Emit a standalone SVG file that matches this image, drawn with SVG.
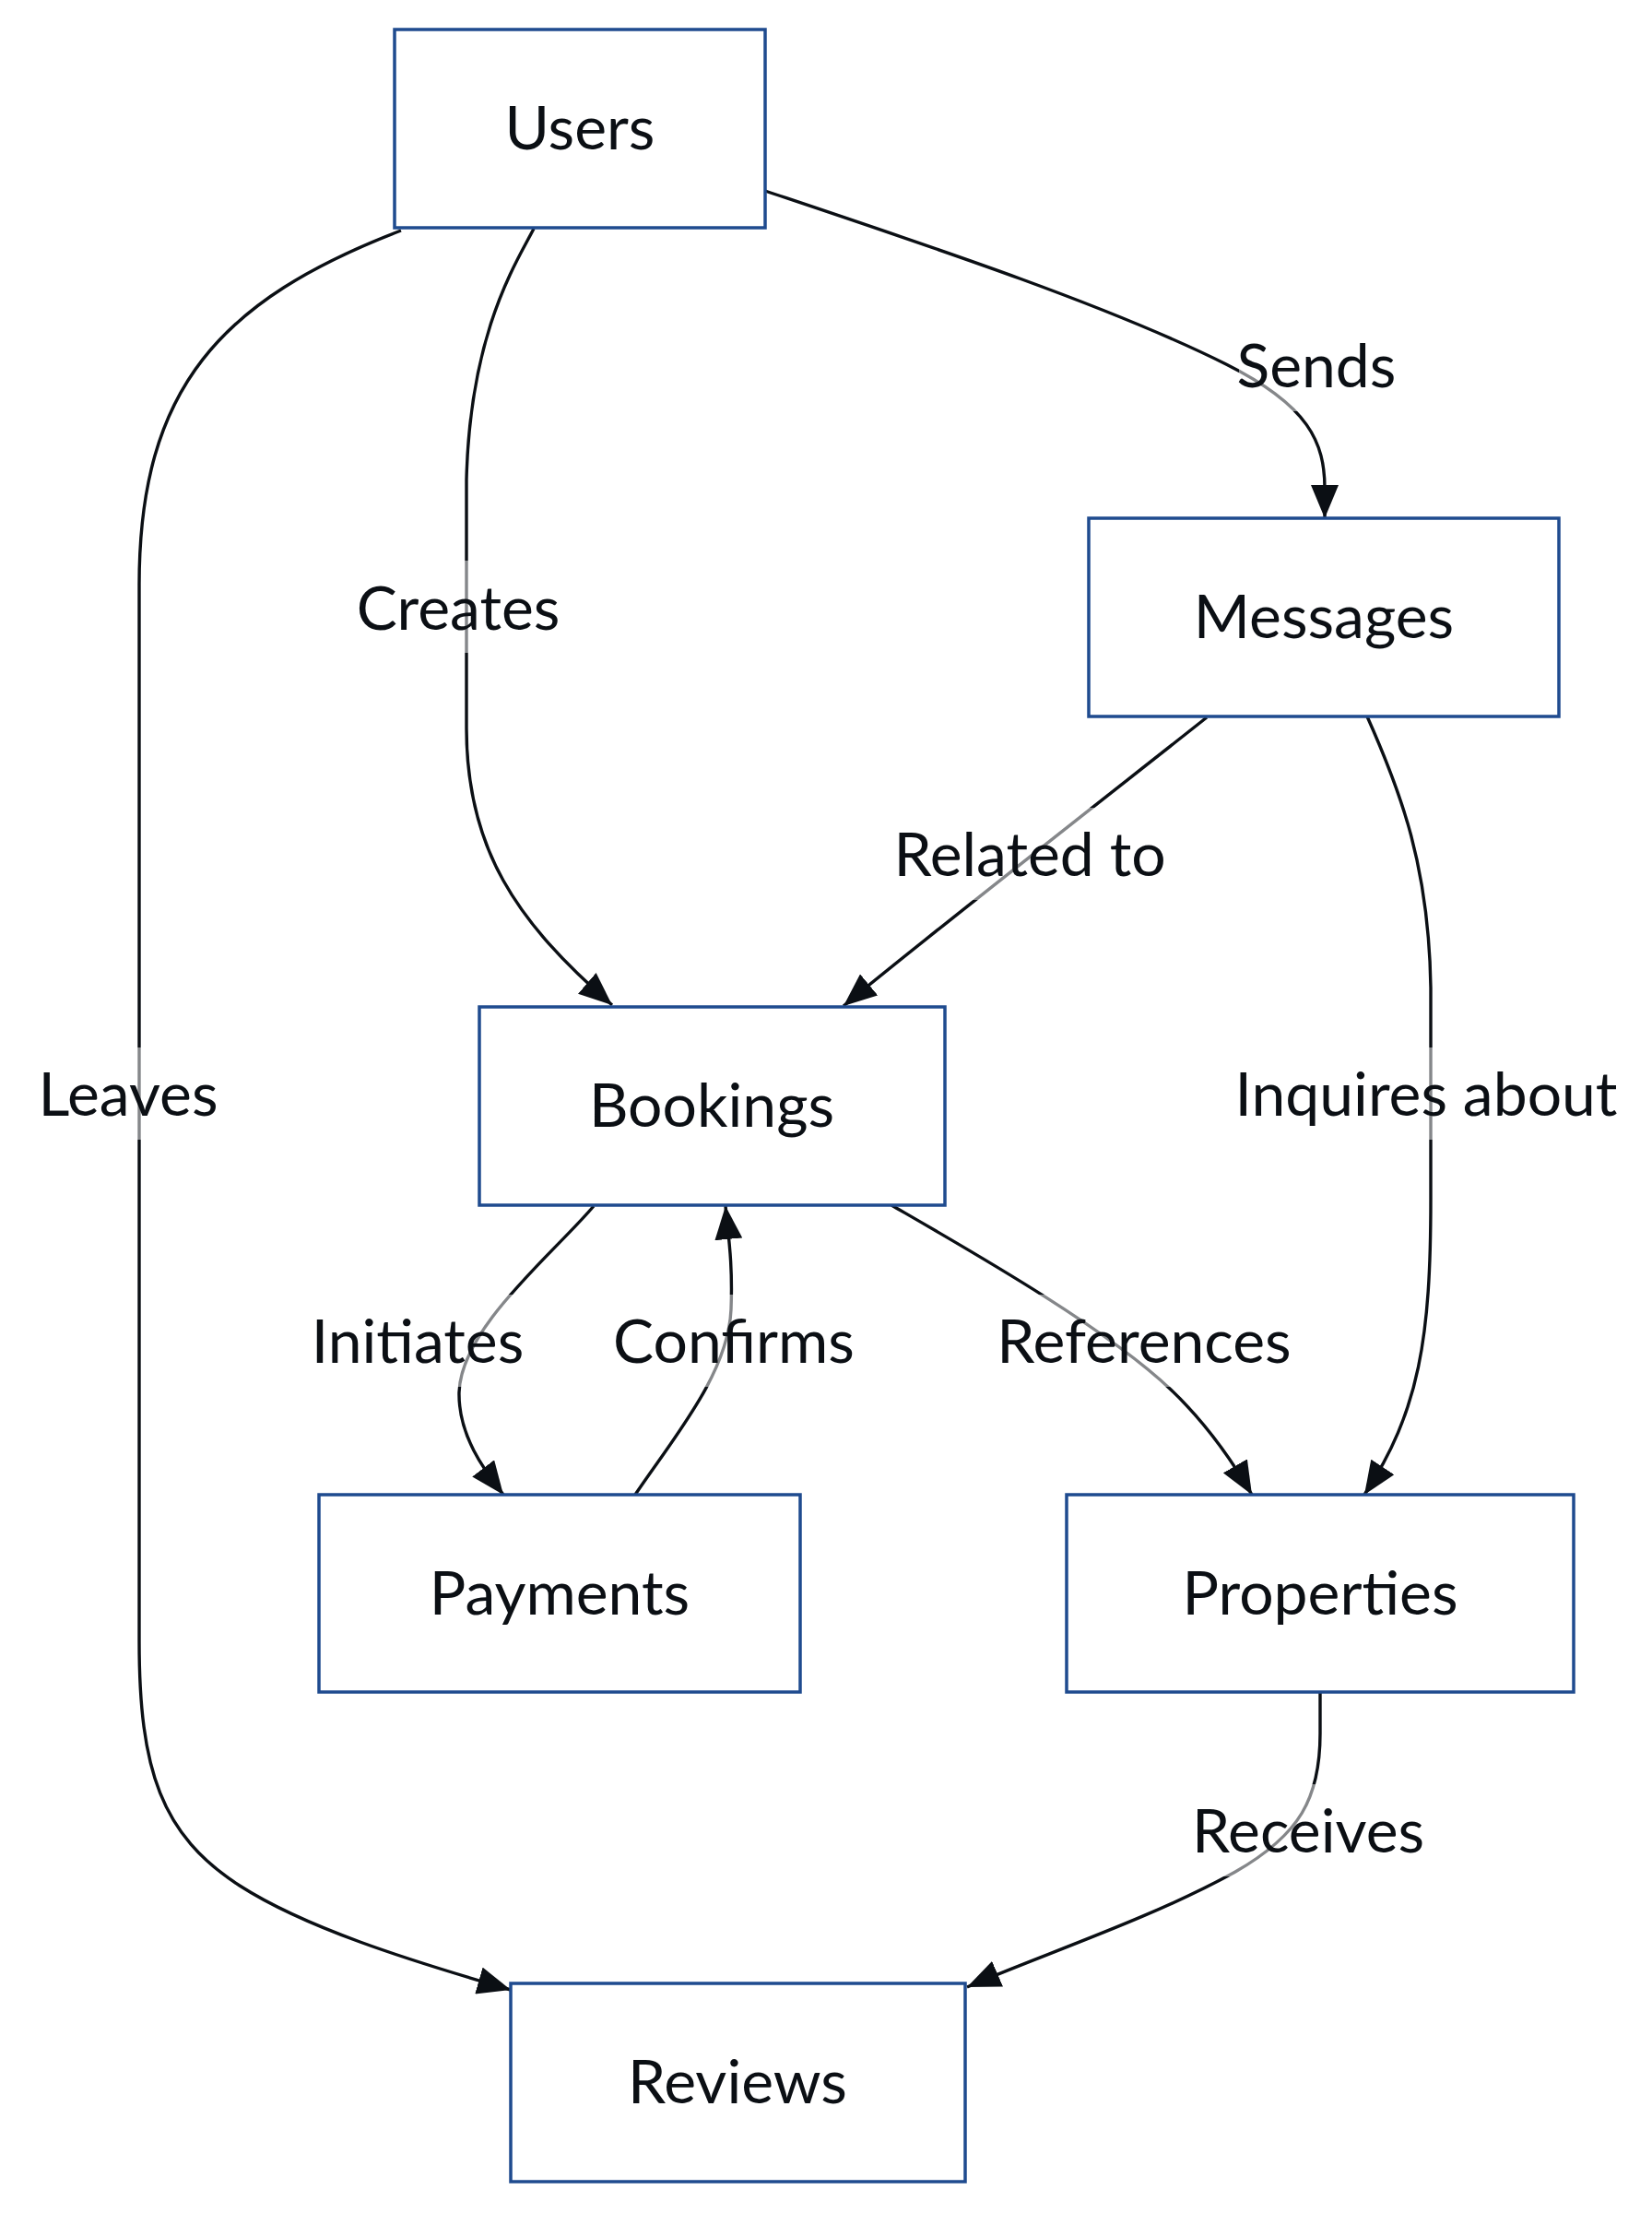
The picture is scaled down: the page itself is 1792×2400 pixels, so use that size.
<svg xmlns="http://www.w3.org/2000/svg" width="1792" height="2400" viewBox="0 0 1792 2400">
<style>
.node rect{fill:#ffffff;stroke:#1f4b8f;stroke-width:3.5}
.node text{font-family:Lato,"Open Sans","Liberation Sans",sans-serif;font-size:66px;fill:#0b0f14;text-anchor:middle}
.edge{fill:none;stroke:#0b0f14;stroke-width:3.4}
.lbl rect{fill:#ffffff;fill-opacity:0.5}
.lbl text{font-family:Lato,"Open Sans","Liberation Sans",sans-serif;font-size:66px;fill:#0b0f14;text-anchor:middle}
</style>
<defs>
<marker id="arrow" viewBox="0 0 12 10" refX="12" refY="5" markerUnits="userSpaceOnUse" markerWidth="36" markerHeight="30" orient="auto">
<path d="M0,0 L12,5 L0,10 z" fill="#0b0f14"/>
</marker>
</defs>
<g id="connectors">
<path class="edge" marker-end="url(#arrow)" d="M830,207 C1000,264 1200,330 1330,395 C1420,440 1437,480 1437,530 L1437,562"/>
<path class="edge" marker-end="url(#arrow)" d="M579,248 C560,285 510,360 506,520 L506,790 C506,920 560,1000 664,1090"/>
<path class="edge" marker-end="url(#arrow)" d="M435,250 C240,325 151,420 151,634 L151,1780 C151,1920 175,1990 260,2045 C330,2090 440,2125 554,2158"/>
<path class="edge" marker-end="url(#arrow)" d="M1309,778 C1250,825 1000,1020 915,1091"/>
<path class="edge" marker-end="url(#arrow)" d="M1483,777 C1520,860 1550,940 1552,1071 L1552,1300 C1552,1450 1540,1530 1480,1621"/>
<path class="edge" marker-end="url(#arrow)" d="M644,1308 C600,1360 500,1440 498,1510 C497,1560 530,1600 546,1621"/>
<path class="edge" marker-end="url(#arrow)" d="M689,1621 C730,1560 790,1490 793,1420 C795,1370 790,1340 787,1308"/>
<path class="edge" marker-end="url(#arrow)" d="M967,1307 C1050,1355 1200,1440 1270,1507 C1310,1545 1340,1590 1358,1621"/>
<path class="edge" marker-end="url(#arrow)" d="M1432,1835 L1432,1880 C1432,1950 1410,1990 1340,2030 C1250,2080 1130,2120 1049,2155"/>
<g class="lbl"><rect x="1344" y="346" width="168" height="100"/><text x="1428" y="420">Sends</text></g>
<g class="lbl"><rect x="386" y="608" width="222" height="100"/><text x="497" y="683">Creates</text></g>
<g class="lbl"><rect x="966" y="876" width="303" height="100"/><text x="1117" y="950">Related to</text></g>
<g class="lbl"><rect x="42" y="1136" width="194" height="100"/><text x="139" y="1210">Leaves</text></g>
<g class="lbl"><rect x="1338" y="1136" width="418" height="100"/><text x="1547" y="1210">Inquires about</text></g>
<g class="lbl"><rect x="334" y="1404" width="237" height="100"/><text x="453" y="1478">Initiates</text></g>
<g class="lbl"><rect x="668" y="1404" width="257" height="100"/><text x="796" y="1478">Confirms</text></g>
<g class="lbl"><rect x="1081" y="1404" width="321" height="100"/><text x="1241" y="1478">References</text></g>
<g class="lbl"><rect x="1294" y="1935" width="251" height="100"/><text x="1419" y="2009">Receives</text></g>
</g>
<g id="node-users" class="node"><rect x="428" y="32" width="402" height="215"/><text x="629" y="162">Users</text></g>
<g id="node-messages" class="node"><rect x="1181" y="562" width="510" height="215"/><text x="1436" y="692">Messages</text></g>
<g id="node-bookings" class="node"><rect x="520" y="1092" width="505" height="215"/><text x="772" y="1222">Bookings</text></g>
<g id="node-payments" class="node"><rect x="346" y="1621" width="522" height="214"/><text x="607" y="1751">Payments</text></g>
<g id="node-properties" class="node"><rect x="1157" y="1621" width="550" height="214"/><text x="1432" y="1751">Properties</text></g>
<g id="node-reviews" class="node"><rect x="554" y="2151" width="493" height="215"/><text x="800" y="2281">Reviews</text></g>
</svg>
